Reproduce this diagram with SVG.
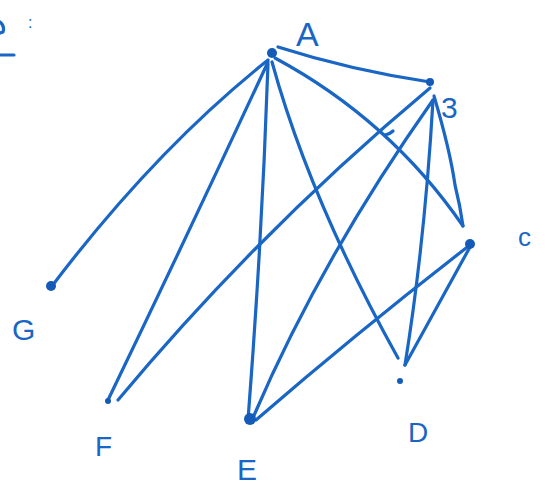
<svg xmlns="http://www.w3.org/2000/svg" width="545" height="494" viewBox="0 0 545 494">
<style>
.e{fill:none;stroke:#1a66c4;stroke-width:3.2;stroke-linecap:round;stroke-linejoin:round}
.d{fill:#145bb8}
.l{font-family:"Liberation Sans",Arial,sans-serif;fill:#1a66c4}
</style>
<rect width="545" height="494" fill="#fff"/>
<g id="header">
<path class="e" d="M0 22 Q5 26 3 32 L0 33" stroke-width="4"/>
<text class="l" x="28" y="28" font-size="16">:</text>
<path class="e" d="M0 55 L14 55"/>
</g>
<g id="connectors">
<path class="e" d="M278 47 Q350 70 430 82"/>
<path class="e" d="M268 60 Q155 150 52 286"/>
<path class="e" d="M268 62 Q190 230 108 400"/>
<path class="e" d="M268 64 Q262 240 248 420"/>
<path class="e" d="M272 62 Q310 200 398 358"/>
<path class="e" d="M275 58 Q390 120 463 226"/>
<path class="e" d="M430 88 Q260 230 118 400"/>
<path class="e" d="M433 100 Q320 260 252 420"/>
<path class="e" d="M433 100 Q425 240 405 365"/>
<path class="e" d="M434 96 Q450 150 455 185 Q460 205 463 226"/>
<path class="e" d="M470 245 Q360 330 256 420"/>
<path class="e" d="M470 247 Q435 310 405 365"/>
<path class="e" d="M385 135 Q390 134 393 131"/>
</g>
<g id="A"><circle class="d" cx="272" cy="53" r="5"/><text class="l" x="296" y="46" font-size="34">A</text></g>
<g id="B"><circle class="d" cx="430" cy="82" r="4"/><text class="l" x="441" y="118" font-size="30">3</text></g>
<g id="C"><circle class="d" cx="470" cy="244" r="5"/><text class="l" x="518" y="246" font-size="26">c</text></g>
<g id="D"><circle class="d" cx="400" cy="381" r="3"/><text class="l" x="408" y="442" font-size="28">D</text></g>
<g id="E"><circle class="d" cx="250" cy="419" r="6"/><text class="l" x="237" y="480" font-size="30">E</text></g>
<g id="F"><circle class="d" cx="108" cy="401" r="3"/><text class="l" x="95" y="456" font-size="28">F</text></g>
<g id="G"><circle class="d" cx="51" cy="286" r="5"/><text class="l" x="12" y="340" font-size="30">G</text></g>
</svg>
